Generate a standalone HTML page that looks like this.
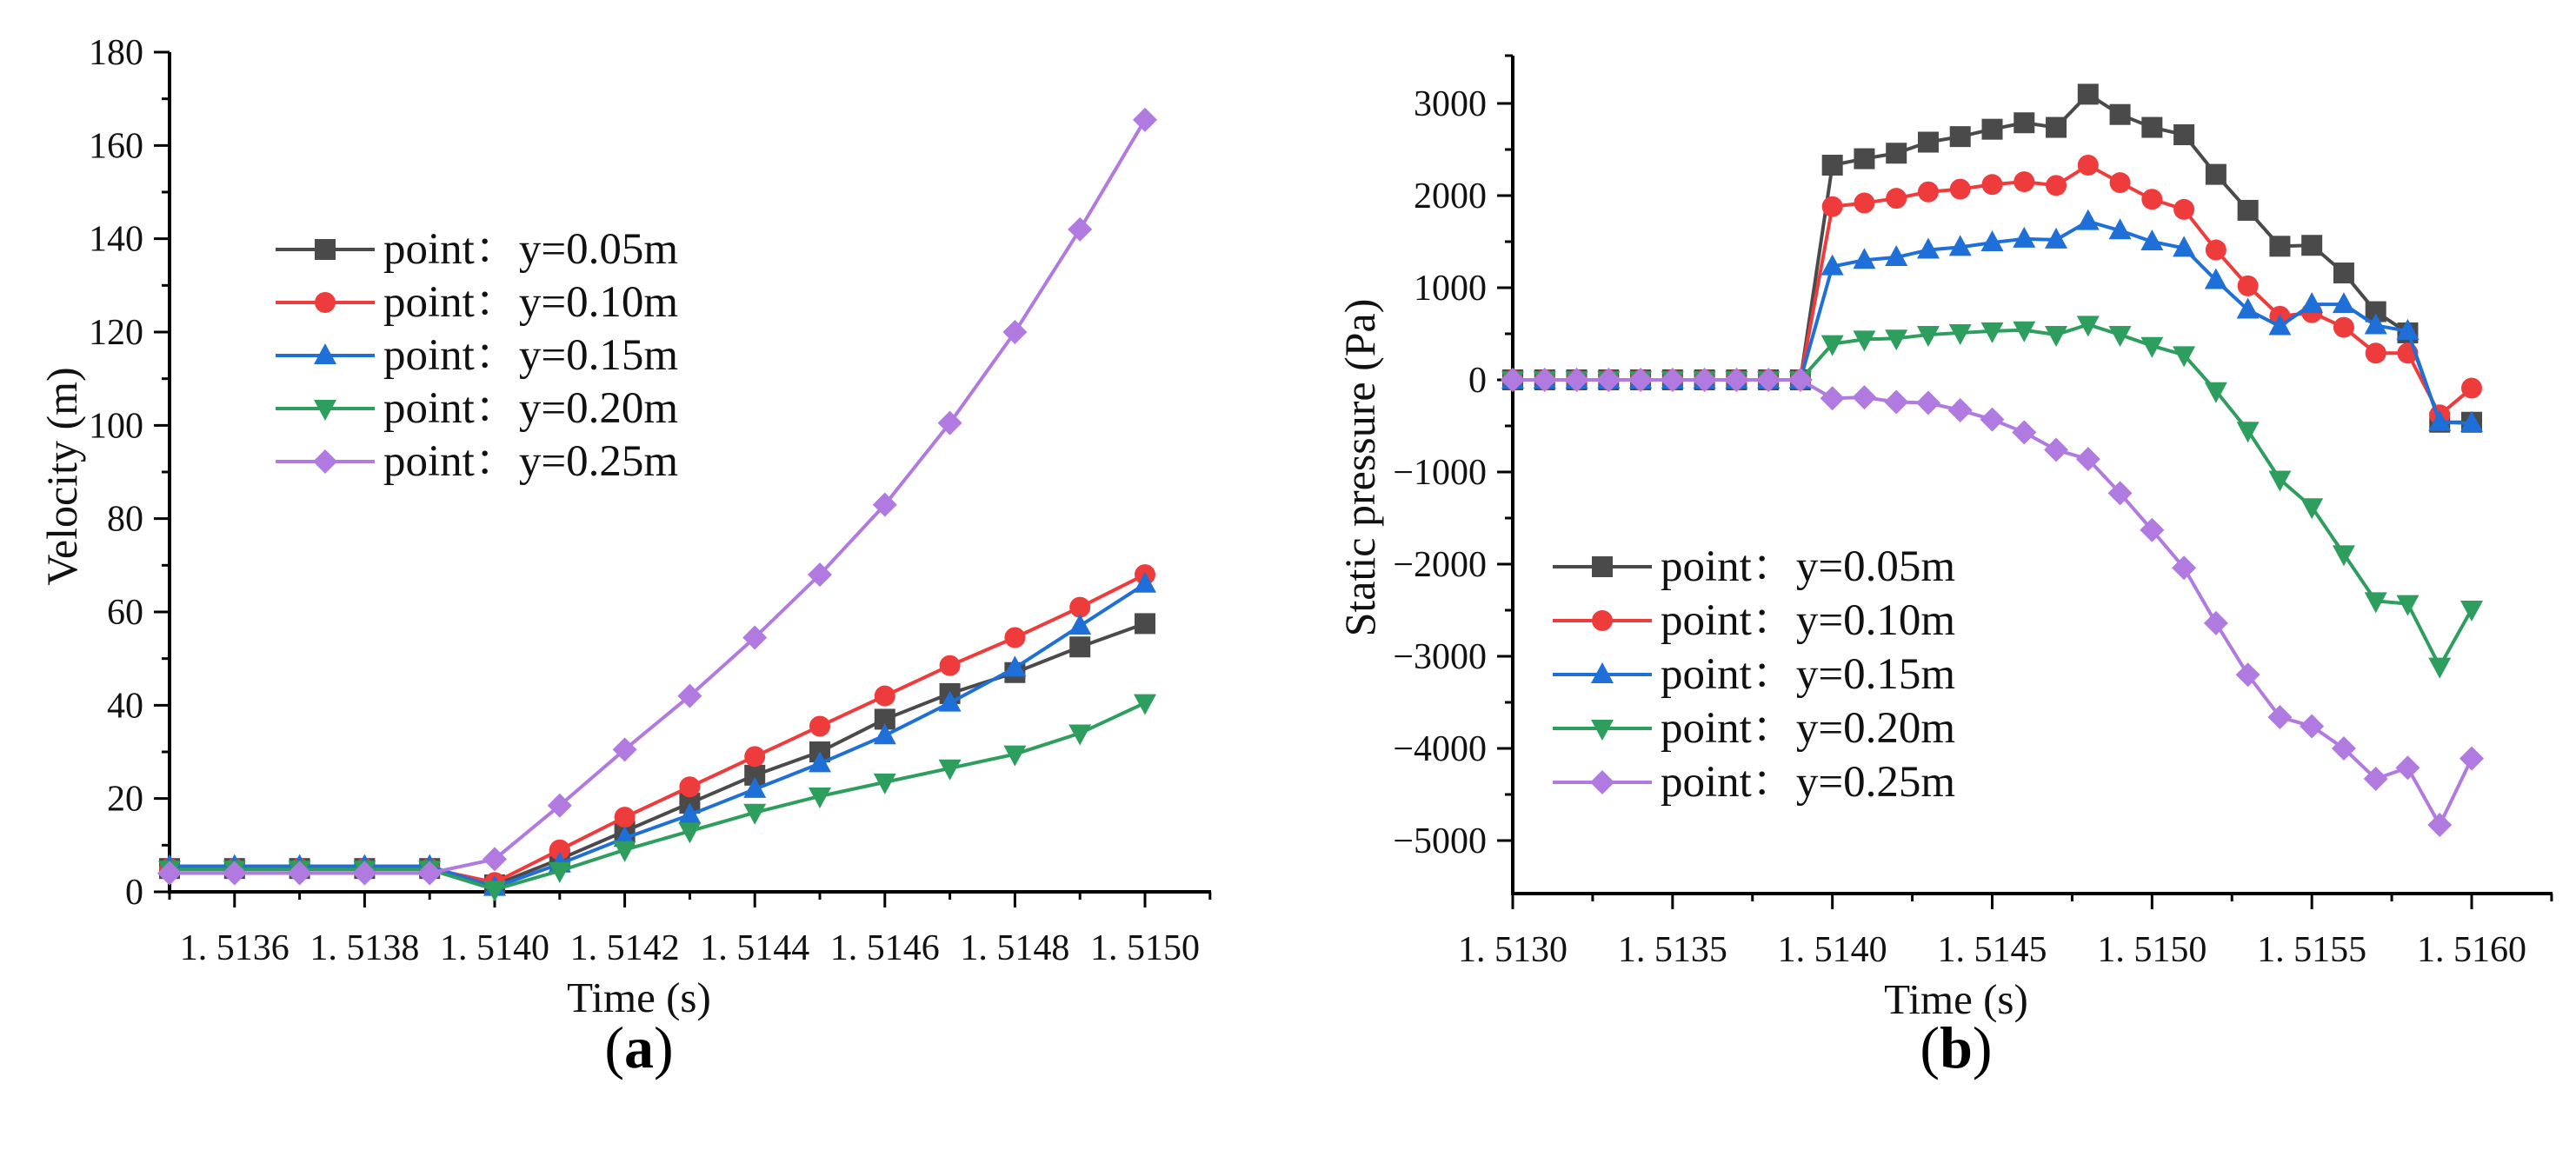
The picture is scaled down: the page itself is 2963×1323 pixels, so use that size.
<!DOCTYPE html>
<html><head><meta charset="utf-8"><style>
html,body{margin:0;padding:0;background:#fff;}
svg{display:block;}
svg text{font-family:"Liberation Serif","Noto Serif CJK SC",serif;}
</style></head><body>
<svg id="svg" width="2963" height="1323" viewBox="0 0 2963 1323" xmlns="http://www.w3.org/2000/svg"></svg>
<script>
// Panel (a) data
const timesA = [1.5135,1.5136,1.5137,1.5138,1.5139,1.5140,1.5141,1.5142,1.5143,1.5144,1.5145,1.5146,1.5147,1.5148,1.5149,1.5150];
const velA005 = [5,5,5,5,5,1.5,7,13,19,25,30,37,42.5,47,52.5,57.5];
const velA010 = [5,5,5,5,5,2,9,16,22.5,29,35.5,42,48.5,54.5,61,68];
const velA015 = [5.5,5.5,5.5,5.5,5.5,1,6,11.5,16.5,22,27.5,33.5,40.5,48,57,66];
const velA020 = [4.8,4.8,4.8,4.8,4.8,0.5,4.5,9,13,17,20.5,23.5,26.5,29.5,34,40.5];
const velA025 = [4,4,4,4,4,7,18.5,30.5,42,54.5,68,83,100.5,120,142,165.5];
const yTicksA = [0,20,40,60,80,100,120,140,160,180];
const xTicksA = ["1. 5136","1. 5138","1. 5140","1. 5142","1. 5144","1. 5146","1. 5148","1. 5150"];
const xTickValsA = [1.5136,1.5138,1.5140,1.5142,1.5144,1.5146,1.5148,1.5150];
// Panel (b) data
const timesB = [1.5130,1.5131,1.5132,1.5133,1.5134,1.5135,1.5136,1.5137,1.5138,1.5139,1.5140,1.5141,1.5142,1.5143,1.5144,1.5145,1.5146,1.5147,1.5148,1.5149,1.5150,1.5151,1.5152,1.5153,1.5154,1.5155,1.5156,1.5157,1.5158,1.5159,1.5160];
const presB005 = [0,0,0,0,0,0,0,0,0,0,2330,2400,2460,2580,2640,2720,2790,2740,3100,2880,2740,2660,2230,1840,1450,1460,1160,740,510,-460,-460];
const presB010 = [0,0,0,0,0,0,0,0,0,0,1880,1920,1970,2040,2070,2120,2150,2110,2330,2140,1960,1850,1410,1020,690,730,570,290,290,-380,-90];
const presB015 = [0,0,0,0,0,0,0,0,0,0,1230,1300,1330,1410,1440,1490,1530,1520,1720,1620,1500,1430,1080,760,580,820,820,590,530,-460,-470];
const presB020 = [0,0,0,0,0,0,0,0,0,0,390,440,450,490,510,530,540,490,600,490,370,270,-120,-550,-1080,-1380,-1890,-2400,-2430,-3110,-2490];
const presB025 = [0,0,0,0,0,0,0,0,0,0,-200,-190,-240,-250,-330,-430,-570,-760,-860,-1230,-1630,-2040,-2640,-3200,-3660,-3760,-4000,-4330,-4210,-4830,-4110];
const yTicksB = [-5000,-4000,-3000,-2000,-1000,0,1000,2000,3000];
const xTicksB = ["1. 5130","1. 5135","1. 5140","1. 5145","1. 5150","1. 5155","1. 5160"];
const xTickValsB = [1.5130,1.5135,1.5140,1.5145,1.5150,1.5155,1.5160];
const seriesNames = ["point：y=0.05m","point：y=0.10m","point：y=0.15m","point：y=0.20m","point：y=0.25m"];

const colors=["#4a4a4a","#ee3b3b","#1f6fd8","#2e9e5e","#b07ae0"];
const shapes=["square","circle","up","down","diamond"];
const NS="http://www.w3.org/2000/svg";
const svg=document.getElementById('svg');
function mk(tag,attrs,parent){const e=document.createElementNS(NS,tag);for(const k in attrs)e.setAttribute(k,attrs[k]);(parent||svg).appendChild(e);return e;}
function marker(g,shape,x,y,c){
  const s=12;let e;
  if(shape==="square")e=mk('rect',{x:x-s,y:y-s,width:2*s,height:2*s,fill:c},g);
  else if(shape==="circle")e=mk('circle',{cx:x,cy:y,r:s,fill:c},g);
  else if(shape==="up")e=mk('polygon',{points:`${x},${y-s-2} ${x-s-1},${y+s-2} ${x+s+1},${y+s-2}`,fill:c},g);
  else if(shape==="down")e=mk('polygon',{points:`${x},${y+s+2} ${x-s-1},${y-s+2} ${x+s+1},${y-s+2}`,fill:c},g);
  else e=mk('polygon',{points:`${x},${y-s-2} ${x+s+2},${y} ${x},${y+s+2} ${x-s-2},${y}`,fill:c},g);
  
  
}
function panel(cfg){
  const g=mk('g',{});
  
  
  const sx=v=>cfg.x0+(v-cfg.xmin)/(cfg.xmax-cfg.xmin)*(cfg.x1-cfg.x0);
  const sy=v=>cfg.y0+(v-cfg.ymin)/(cfg.ymax-cfg.ymin)*(cfg.y1-cfg.y0);
  const ya=mk('line',{x1:cfg.axX,y1:cfg.axTop,x2:cfg.axX,y2:cfg.axY+2,stroke:"#000","stroke-width":4},g);
  
  const xa=mk('line',{x1:cfg.axX-2,y1:cfg.axY,x2:cfg.axRight,y2:cfg.axY,stroke:"#000","stroke-width":4},g);
  
  mk('line',{x1:cfg.axX-9,y1:cfg.axTop,x2:cfg.axX,y2:cfg.axTop,stroke:"#000","stroke-width":3},g);
  cfg.yTicks.forEach((v,i)=>{
    const y=sy(v);
    mk('line',{x1:cfg.axX-18,y1:y,x2:cfg.axX,y2:y,stroke:"#000","stroke-width":3},g);
    if(i<cfg.yTicks.length-1){const ym=sy(v+cfg.yStep/2);mk('line',{x1:cfg.axX-9,y1:ym,x2:cfg.axX,y2:ym,stroke:"#000","stroke-width":3},g);}
    const t=mk('text',{x:cfg.axX-30,y:y+14,"text-anchor":"end","font-size":42,fill:"#111"},g);
    t.textContent=String(v).replace('-','−');
    
  });
  cfg.xTickVals.forEach((v,i)=>{
    const x=sx(v);
    mk('line',{x1:x,y1:cfg.axY,x2:x,y2:cfg.axY+18,stroke:"#000","stroke-width":3},g);
    const t=mk('text',{x:x,y:cfg.axY+78,"text-anchor":"middle","font-size":42,fill:"#111"},g);
    t.textContent=cfg.xTicks[i];
    
  });
  cfg.minorX.forEach(v=>{const x=sx(v);mk('line',{x1:x,y1:cfg.axY,x2:x,y2:cfg.axY+9,stroke:"#000","stroke-width":3},g);});
  cfg.series.forEach((vals,si)=>{
    const sg=mk('g',{},g);
    
    
    const pts=vals.map((v,i)=>sx(cfg.times[i])+','+sy(v)).join(' ');
    mk('polyline',{points:pts,fill:"none",stroke:colors[si],"stroke-width":4,"stroke-linejoin":"round"},sg);
    vals.forEach((v,i)=>marker(sg,shapes[si],sx(cfg.times[i]),sy(v),colors[si]));
  });
  const lg=mk('g',{},g);
  
  seriesNames.forEach((n,i)=>{
    const y=cfg.legY+i*cfg.legDy;
    const eg=mk('g',{},lg);
    
    mk('line',{x1:cfg.legX,y1:y,x2:cfg.legX+114,y2:y,stroke:colors[i],"stroke-width":4},eg);
    marker(eg,shapes[i],cfg.legX+57,y,colors[i]);
    const t=mk('text',{x:cfg.legX+124,y:y+16,"font-size":51,fill:"#111"},eg);
    t.textContent=n;
  });
  const xt=mk('text',{x:cfg.xTitleX,y:cfg.axY+138,"text-anchor":"middle","font-size":49,fill:"#111"},g);
  xt.textContent="Time (s)";
  const yt=mk('text',{x:0,y:0,"text-anchor":"middle","font-size":50,fill:"#111",transform:`translate(${cfg.yTitleX},${cfg.yTitleY}) rotate(-90)`},g);
  yt.textContent=cfg.yTitle;
  const lab=mk('text',{x:cfg.xTitleX,y:1228,"text-anchor":"middle","font-size":68,fill:"#000"},g);
  lab.innerHTML='(<tspan font-weight="bold">'+cfg.label+'</tspan>)';
  
}
const minorA=[];for(let k=0;k<8;k++)minorA.push(1.5135+0.0002*k);
panel({name:'velocity-chart',xmin:1.5135,xmax:1.5150,x0:195,x1:1317,ymin:0,ymax:180,y0:1026,y1:60,
  axX:195,axY:1026,axTop:60,axRight:1393,yTicks:yTicksA,yStep:20,xTicks:xTicksA,xTickVals:xTickValsA,minorX:minorA.concat([1.5151]),
  times:timesA,series:[velA005,velA010,velA015,velA020,velA025],legX:317,legY:287,legDy:61,
  xTitleX:735,yTitleX:88,yTitleY:548,yTitle:"Velocity (m)",label:"a"});
const minorB=[];for(let k=0;k<7;k++)minorB.push(1.51325+0.0005*k);
panel({name:'static-pressure-chart',xmin:1.5130,xmax:1.5160,x0:1740,x1:2843,ymin:0,ymax:3000,y0:437,y1:119,
  axX:1740,axY:1028,axTop:64,axRight:2936,yTicks:yTicksB,yStep:1000,xTicks:xTicksB,xTickVals:xTickValsB,minorX:minorB,
  times:timesB,series:[presB005,presB010,presB015,presB020,presB025],legX:1786,legY:652,legDy:62,
  xTitleX:2250,yTitleX:1581,yTitleY:538,yTitle:"Static pressure (Pa)",label:"b"});
</script>
</body></html>
